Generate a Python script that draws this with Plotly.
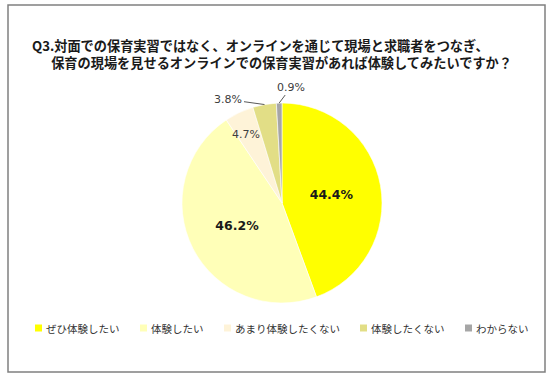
import math
import plotly.graph_objects as go

categories = ["ぜひ体験したい", "体験したい", "あまり体験したくない", "体験したくない", "わからない"]
values = [44.4, 46.2, 4.7, 3.8, 0.9]
colors = ["#FFFF00", "#FFFFB8", "#FEF3D8", "#E2DE86", "#A6A6A6"]
title_lines = ["Q3.対面での保育実習ではなく、オンラインを通じて現場と求職者をつなぎ、",
               "保育の現場を見せるオンラインでの保育実習があれば体験してみたいですか？"]

W, H = 551, 379
JP = "Noto Sans CJK JP"
NUM = "DejaVu Sans"

# layout constants (pixels)
cx, cy, r = 282, 203, 100
legend_x = [35, 140, 224, 360, 465]
legend_y = 328

big = [v > 10 for v in values]
texts = [f"<b>{v:.1f}%</b>" if b else "" for v, b in zip(values, big)]

fig = go.Figure(go.Pie(
    labels=categories, values=values, sort=False, direction="clockwise", rotation=0,
    marker=dict(colors=colors, line=dict(color="white", width=0.6)),
    text=texts, textinfo="text", textposition="inside",
    insidetextorientation="horizontal",
    textfont=dict(family=NUM, size=12.5, color="#1a1a1a"),
    domain=dict(x=[(cx - r) / W, (cx + r) / W], y=[1 - (cy + r) / H, 1 - (cy - r) / H]),
    hoverinfo="label+percent", showlegend=False,
))

def px(x, y):
    return x / W, 1 - y / H

# small-slice labels, placed from the slice geometry
total = sum(values)
cum = 0
label_specs = {2: ("inside", 0.85, 0, 0), 3: ("arrow", 1.0, -36, -5), 4: ("arrow", 1.0, 12, -16)}
for i, v in enumerate(values):
    mid = (cum + v / 2) / total * 2 * math.pi
    cum += v
    if i not in label_specs:
        continue
    kind, frac, ax, ay = label_specs[i]
    x = cx + r * frac * math.sin(mid)
    y = cy - r * frac * math.cos(mid)
    xp, yp = px(x, y)
    if kind == "inside":
        fig.add_annotation(x=xp, y=yp, xref="paper", yref="paper", text=f"{v:.1f}%", showarrow=False,
                           font=dict(family=NUM, size=11, color="#404040"))
    else:
        fig.add_annotation(x=xp, y=yp, xref="paper", yref="paper", text=f"{v:.1f}%", showarrow=True,
                           ax=ax, ay=ay, arrowhead=0, arrowwidth=1, arrowcolor="#595959", standoff=0,
                           font=dict(family=NUM, size=11, color="#404040"))

# title (single text block, second line indented)
title_text = f"<b>{title_lines[0]}</b><br><b>\u3000\u00a0\u00a0{title_lines[1]}</b>"
fig.add_annotation(x=30 / W, y=1 - 53.5 / H, xref="paper", yref="paper", xanchor="left", yanchor="middle",
                   align="left", text=title_text, showarrow=False,
                   font=dict(family=JP, size=13.2, color="#1a1a1a"))

# legend built from the categories and colours
for name, col, lx in zip(categories, colors, legend_x):
    fig.add_shape(type="rect", xref="paper", yref="paper",
                  x0=lx / W, x1=(lx + 7) / W, y0=1 - (legend_y + 3.5) / H, y1=1 - (legend_y - 3.5) / H,
                  line=dict(width=0), fillcolor=col)
    fig.add_annotation(x=(lx + 9) / W, y=1 - legend_y / H, xref="paper", yref="paper",
                       xanchor="left", yanchor="middle", text=name, showarrow=False,
                       font=dict(family=JP, size=10.5, color="#333333"))

# frame
fig.add_shape(type="rect", xref="paper", yref="paper", x0=8 / W, x1=545 / W, y0=1 - 372 / H, y1=1 - 5 / H,
              line=dict(color="#808080", width=1.5), fillcolor="rgba(0,0,0,0)")

fig.update_layout(
    width=W, height=H, margin=dict(l=0, r=0, t=0, b=0),
    paper_bgcolor="white", plot_bgcolor="white",
    showlegend=False,
    font=dict(family=JP),
)

fig.write_html("out.html", config={"displayModeBar": False},
               post_script="document.body.style.margin='0';")
